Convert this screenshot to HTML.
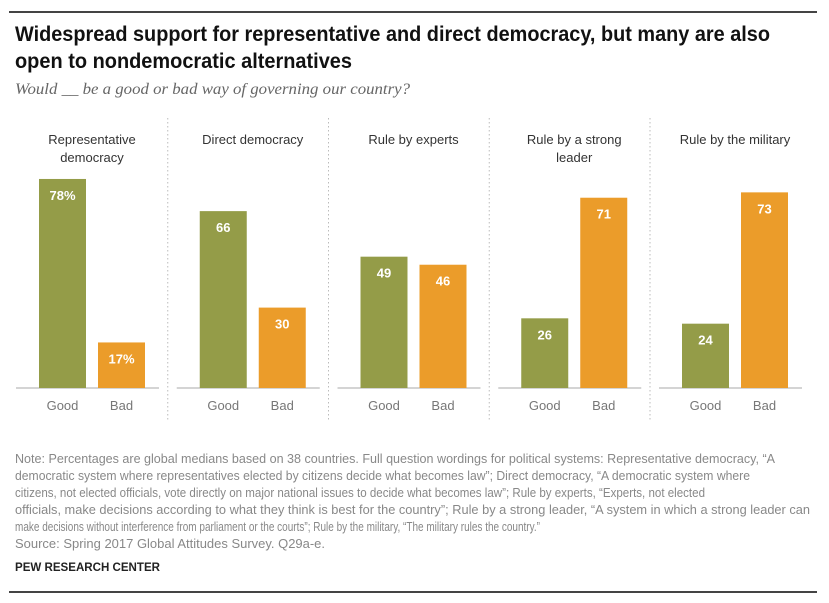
<!DOCTYPE html>
<html><head><meta charset="utf-8"><style>
body{margin:0;background:#fff;}
svg{display:block;font-family:"Liberation Sans",sans-serif;}
</style></head><body>
<svg id="chart" width="829" height="603" viewBox="0 0 829 603">
<line x1="9" y1="12" x2="817" y2="12" stroke="#444" stroke-width="2"/>
<text x="15" y="41" font-size="21" font-weight="bold" fill="#111" textLength="755" lengthAdjust="spacingAndGlyphs">Widespread support for representative and direct democracy, but many are also</text>
<text x="15" y="68" font-size="21" font-weight="bold" fill="#111" textLength="337" lengthAdjust="spacingAndGlyphs">open to nondemocratic alternatives</text>
<text x="15" y="94" font-size="16" font-style="italic" fill="#666" font-family="Liberation Serif,serif" textLength="395" lengthAdjust="spacingAndGlyphs">Would __ be a good or bad way of governing our country?</text>
<g id="bars"></g>
<g font-size="13" fill="#888">
<text x="15" y="463" textLength="760" lengthAdjust="spacingAndGlyphs">Note: Percentages are global medians based on 38 countries. Full question wordings for political systems: Representative democracy, “A</text>
<text x="15" y="480" textLength="735" lengthAdjust="spacingAndGlyphs">democratic system where representatives elected by citizens decide what becomes law”; Direct democracy, “A democratic system where</text>
<text x="15" y="497" textLength="690" lengthAdjust="spacingAndGlyphs">citizens, not elected officials, vote directly on major national issues to decide what becomes law”; Rule by experts, “Experts, not elected</text>
<text x="15" y="514" textLength="795" lengthAdjust="spacingAndGlyphs">officials, make decisions according to what they think is best for the country”; Rule by a strong leader, “A system in which a strong leader can</text>
<text x="15" y="531" textLength="525" lengthAdjust="spacingAndGlyphs">make decisions without interference from parliament or the courts”; Rule by the military, “The military rules the country.”</text>
<text x="15" y="548" textLength="310" lengthAdjust="spacingAndGlyphs">Source: Spring 2017 Global Attitudes Survey. Q29a-e.</text>
</g>
<text x="15" y="571" font-size="12" font-weight="bold" fill="#222" textLength="145" lengthAdjust="spacingAndGlyphs">PEW RESEARCH CENTER</text>
<line x1="9" y1="592" x2="817" y2="592" stroke="#444" stroke-width="2"/>
</svg>
<script>
const categories=[["Representative","democracy"],["Direct democracy"],["Rule by experts"],["Rule by a strong","leader"],["Rule by the military"]];
const goodValues=[78,66,49,26,24];
const badValues=[17,30,46,71,73];
const seriesLabels=["Good","Bad"];
const NS="http://www.w3.org/2000/svg";
const g=document.getElementById('bars');
const baseY=388, scale=2.68, panelW=160.75, x0=39, barW=47, gap=12;
function yOf(v){return baseY-v*scale;}
function mk(tag,attrs,txt){const e=document.createElementNS(NS,tag);for(const k in attrs)e.setAttribute(k,attrs[k]);if(txt!=null)e.textContent=txt;g.appendChild(e);return e;}
categories.forEach((cat,i)=>{
  const px=x0+i*panelW;
  const center=px+barW+gap/2;
  const base=mk('line',{x1:px-23,x2:px+barW*2+gap+14,y1:baseY,y2:baseY,stroke:'#bbb','stroke-width':1.2});
  
  
  if(i>0){const d=mk('line',{x1:px-32,x2:px-32,y1:118,y2:420,stroke:'#bbb','stroke-width':1,'stroke-dasharray':'1.5,2.5'});
    
    }
  cat.forEach((ln,j)=>{const t=mk('text',{x:center,y:144+j*18,'text-anchor':'middle','font-size':13,fill:'#333'},ln);
    
    });
  [goodValues[i],badValues[i]].forEach((v,k)=>{
    const bx=px+k*(barW+gap);
    const r=mk('rect',{x:bx,y:yOf(v),width:barW,height:v*scale,fill:k?'#eb9c2a':'#949c48'});
    
    
    const lbl=(i===0)?v+'%':String(v);
    const t=mk('text',{x:bx+barW/2,y:yOf(v)+21,'text-anchor':'middle','font-size':13,'font-weight':'bold',fill:'#fff'},lbl);
    
    
    const a=mk('text',{x:bx+barW/2,y:410,'text-anchor':'middle','font-size':13,fill:'#777'},seriesLabels[k]);
    
    
  });
});
</script>
</body></html>
